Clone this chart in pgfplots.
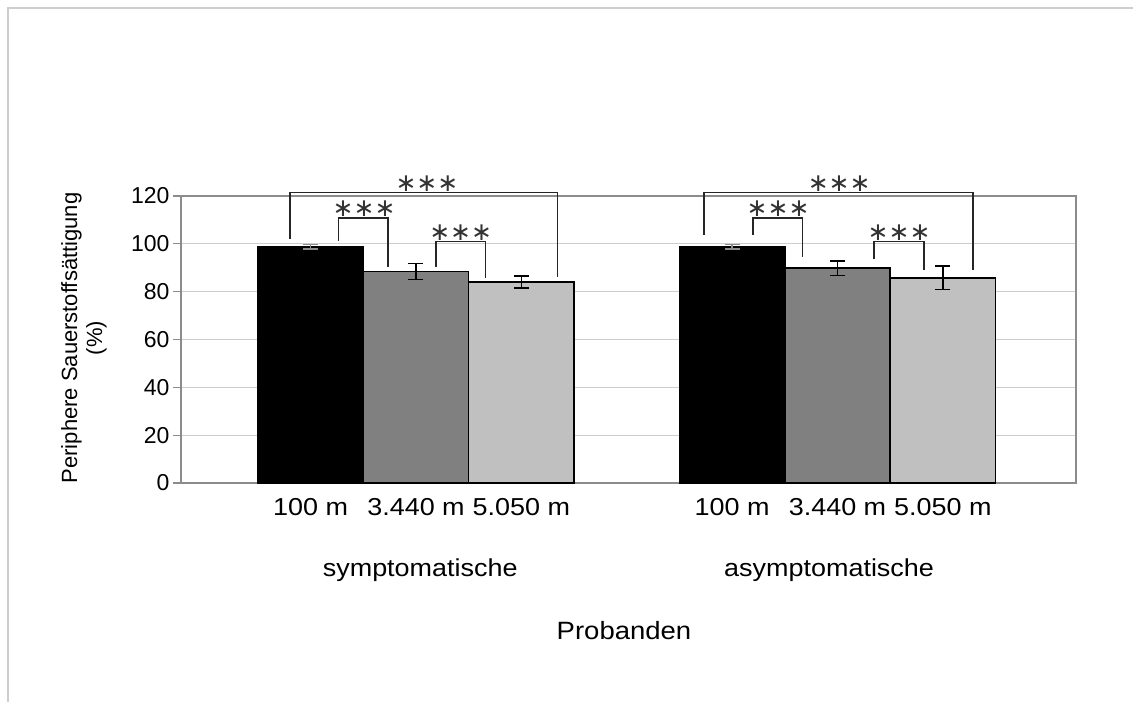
\documentclass[border=0pt]{standalone}
\usepackage{pgfplots}
\pgfplotsset{compat=1.18}
\usepackage{pgfplotstable}
\usepackage{fontspec}
\setmainfont{Liberation Sans}
\newfontfamily\wide{Liberation Sans}[FakeStretch=1.1]
\newfontfamily\dv{DejaVu Sans}
\definecolor{barmid}{RGB}{128,128,128}
\definecolor{barlight}{RGB}{192,192,192}
\definecolor{gridc}{RGB}{205,205,205}
\definecolor{framec}{RGB}{140,140,140}

\pgfplotstableread{
x y e
-0.25 98.8 1.0
0.75 98.8 1.0
}\tblack
\pgfplotstableread{
x y e
0.0 88.4 3.4
1.0 89.8 3.1
}\tmid
\pgfplotstableread{
x y e
0.25 84.0 2.5
1.25 85.8 5.0
}\tlight

\begin{document}
\begin{tikzpicture}[x=1pt,y=1pt]
\path[use as bounding box] (0,0) rectangle (1133,702);
\draw[gridc, line width=1.5pt] (8,0) -- (8,694) -- (1133,694);
\begin{axis}[
  at={(181pt,219pt)}, anchor=south west,
  width=895pt, height=287pt, scale only axis,
  xmin=-0.5575, xmax=1.5658, ymin=0, ymax=120,
  ytick={0,20,...,120},
  ymajorgrids, grid style={gridc, line width=1.2pt},
  axis line style={framec, line width=1.3pt},
  ytick pos=left, tick align=outside, major tick length=8pt,
  tick style={framec, line width=1.2pt},
  xtick={-0.25,0,0.25,0.75,1,1.25},
  xticklabels={100 m, 3.440 m, 5.050 m, 100 m, 3.440 m, 5.050 m},
  x tick style={draw=none},
  xticklabel style={font=\wide\fontsize{24.5}{28}\selectfont, yshift=-4pt},
  yticklabel style={font=\fontsize{23}{27}\selectfont},
  /pgf/number format/assume math mode=true,
  clip=false,
]
\addplot[ybar, bar width=0.25, bar shift=0pt, fill=black, draw=black, line width=1.5pt,
  error bars/.cd, y dir=both, y explicit,
  error bar style={line width=1.4pt, framec},
  error mark options={rotate=90, line width=1.4pt, mark size=7.5pt, framec}]
  table[x=x, y=y, y error=e] {\tblack};
\addplot[ybar, bar width=0.25, bar shift=0pt, fill=barmid, draw=black, line width=1.5pt,
  error bars/.cd, y dir=both, y explicit,
  error bar style={line width=1.4pt, black},
  error mark options={rotate=90, line width=1.4pt, mark size=7.5pt, black}]
  table[x=x, y=y, y error=e] {\tmid};
\addplot[ybar, bar width=0.25, bar shift=0pt, fill=barlight, draw=black, line width=1.5pt,
  error bars/.cd, y dir=both, y explicit,
  error bar style={line width=1.4pt, black},
  error mark options={rotate=90, line width=1.4pt, mark size=7.5pt, black}]
  table[x=x, y=y, y error=e] {\tlight};

\addplot[black!85, line width=1.5pt, mark=none] coordinates {(-0.299,102) (-0.299,121.4) (0.336,121.4) (0.336,86)};
\addplot[black!85, line width=1.5pt, mark=none] coordinates {(-0.184,101.3) (-0.184,110.9) (-0.067,110.9) (-0.067,90.4)};
\addplot[black!85, line width=1.5pt, mark=none] coordinates {(0.047,90.4) (0.047,100.9) (0.165,100.9) (0.165,85.6)};
\addplot[black!85, line width=1.5pt, mark=none] coordinates {(0.683,103.7) (0.683,121.4) (1.321,121.4) (1.321,89)};
\addplot[black!85, line width=1.5pt, mark=none] coordinates {(0.799,103.7) (0.799,110.9) (0.917,110.9) (0.917,94.4)};
\addplot[black!85, line width=1.5pt, mark=none] coordinates {(1.087,93.5) (1.087,100.9) (1.205,100.9) (1.205,89)};

\node[font=\dv\fontsize{25}{25}\selectfont, inner sep=0pt, text=black!80] at (axis cs:0.026,125) {∗∗∗};
\node[font=\dv\fontsize{25}{25}\selectfont, inner sep=0pt, text=black!80] at (axis cs:-0.123,114.5) {∗∗∗};
\node[font=\dv\fontsize{25}{25}\selectfont, inner sep=0pt, text=black!80] at (axis cs:0.106,104.6) {∗∗∗};
\node[font=\dv\fontsize{25}{25}\selectfont, inner sep=0pt, text=black!80] at (axis cs:1.004,125) {∗∗∗};
\node[font=\dv\fontsize{25}{25}\selectfont, inner sep=0pt, text=black!80] at (axis cs:0.859,114.5) {∗∗∗};
\node[font=\dv\fontsize{25}{25}\selectfont, inner sep=0pt, text=black!80] at (axis cs:1.146,104.6) {∗∗∗};

\node[font=\wide\fontsize{24.5}{28}\selectfont, yshift=-87pt] at (axis cs:0.01,0) {symptomatische};
\node[font=\wide\fontsize{24.5}{28}\selectfont, yshift=-87pt] at (axis cs:0.98,0) {asymptomatische};
\node[font=\wide\fontsize{25}{28}\selectfont, yshift=-148pt] at (axis cs:0.4935,0) {Probanden};
\end{axis}
\node[rotate=90, align=center, font=\fontsize{22}{25}\selectfont] at (84,364) {Periphere Sauerstoffsättigung\\(\%)};
\end{tikzpicture}
\end{document}
